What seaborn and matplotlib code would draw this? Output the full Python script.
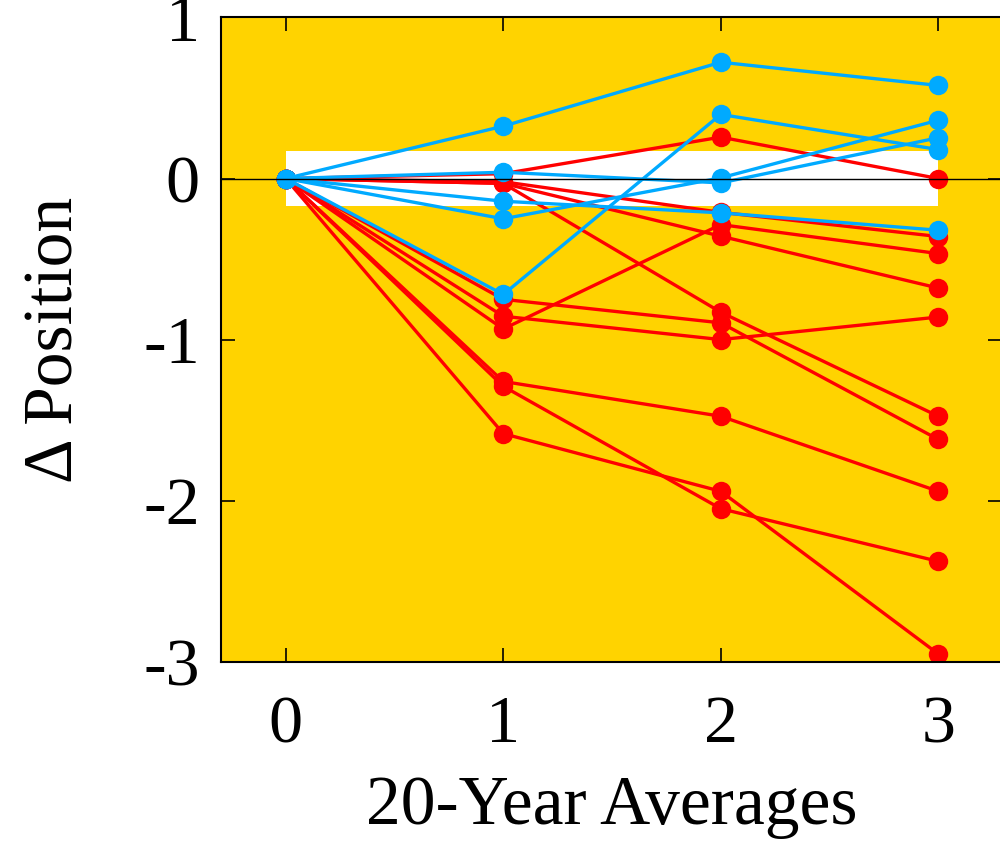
import matplotlib
matplotlib.use("Agg")
import matplotlib.pyplot as plt
import seaborn as sns
import pandas as pd
from matplotlib.patches import Rectangle

sns.set_style("ticks")
plt.rcParams['font.family'] = ['Liberation Serif', 'DejaVu Serif']
plt.rcParams['text.color'] = 'black'
plt.rcParams['axes.labelcolor'] = 'black'

# ---- data ----
steps = [0, 1, 2, 3]

red_series = {
    "R1": [0, 0.03, 0.257, 0.0],
    "R2": [0, -0.02, -0.21, -0.36],
    "R3": [0, -0.934, -0.286, -0.466],
    "R4": [0, -0.03, -0.358, -0.68],
    "R5": [0, -0.03, -0.83, -1.476],
    "R6": [0, -0.75, -0.896, -1.62],
    "R7": [0, -0.855, -1.0, -0.86],
    "R8": [0, -1.26, -1.476, -1.942],
    "R9": [0, -1.29, -2.05, -2.377],
    "R10": [0, -1.584, -1.942, -2.952],
}

blue_series = {
    "B1": [0, 0.325, 0.722, 0.578],
    "B2": [0, -0.72, 0.398, 0.18],
    "B3": [0, 0.039, -0.027, 0.253],
    "B4": [0, -0.141, -0.213, -0.321],
    "B5": [0, -0.25, 0.004, 0.362],
}

x_ticks = [0, 1, 2, 3]
y_ticks = [-3, -2, -1, 0, 1]
x_label = "20-Year Averages"
y_label = "Δ Position"

band_half = 0.17

RED = "#FF0000"
BLUE = "#00AAFF"
GOLD = "#FFD300"


def to_long(d):
    rows = []
    for name, vals in d.items():
        for x, v in zip(steps, vals):
            rows.append({"series": name, "x": x, "y": v})
    return pd.DataFrame(rows)


df_red = to_long(red_series)
df_blue = to_long(blue_series)

fig = plt.figure(figsize=(10, 8.44), dpi=100)
ax = fig.add_axes([0.2207, 0.216, 1.002 - 0.2207, 0.9793 - 0.216])
ax.set_facecolor(GOLD)

ax.add_patch(Rectangle((steps[0], -band_half), steps[-1] - steps[0], 2 * band_half,
                       facecolor="white", edgecolor="none", zorder=1))

common = dict(x="x", y="y", units="series", estimator=None, marker="o",
              markersize=14, markeredgewidth=0, linewidth=2.4, ax=ax,
              legend=False)
sns.lineplot(data=df_red, color=RED, zorder=3, **common)
sns.lineplot(data=df_blue, color=BLUE, zorder=4, **common)

ax.axhline(0, color="black", linewidth=1.0, zorder=6)

ax.set_xlim(-0.299, 3.293)
ax.set_ylim(-3, 1)
ax.set_xticks(x_ticks)
ax.set_yticks(y_ticks)
ax.set_xticklabels([str(t) for t in x_ticks])
ax.set_yticklabels([str(t) for t in y_ticks])

ax.tick_params(axis="both", direction="in", length=10, width=1.2,
               top=True, right=True, labelsize=49, colors="black")
ax.tick_params(axis="x", pad=24)
ax.tick_params(axis="y", pad=15)

for s in ax.spines.values():
    s.set_linewidth(1.5)
    s.set_color("black")
    s.set_zorder(7)

ax.set_xlabel(x_label, fontsize=50, labelpad=14, color="black")
ax.set_ylabel(y_label, fontsize=50, labelpad=40, color="black")

fig.savefig("out.png", dpi=100)
